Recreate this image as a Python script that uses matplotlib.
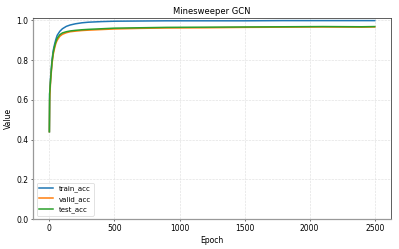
import matplotlib
matplotlib.use("Agg")
import matplotlib.pyplot as plt

# (epoch, accuracy)
epochs = [0, 2, 5, 10, 20, 30, 40, 50, 60, 80, 100, 130, 160, 200, 250, 300, 400, 500, 700,
          900, 1200, 1500, 1800, 2100, 2400, 2500]
train_acc = [0.44, 0.63, 0.66, 0.72, 0.80, 0.85, 0.88, 0.905, 0.925, 0.945, 0.958, 0.970, 0.977,
             0.983, 0.988, 0.991, 0.994, 0.996, 0.997, 0.998, 0.998, 0.998, 0.999, 0.999, 0.999, 0.999]
valid_acc = [0.44, 0.60, 0.64, 0.70, 0.78, 0.83, 0.86, 0.885, 0.90, 0.92, 0.930, 0.938, 0.943,
             0.946, 0.949, 0.951, 0.954, 0.957, 0.960, 0.962, 0.963, 0.965, 0.966, 0.967, 0.966, 0.967]
test_acc = [0.44, 0.63, 0.66, 0.71, 0.79, 0.84, 0.87, 0.893, 0.91, 0.928, 0.937, 0.943, 0.947,
            0.950, 0.953, 0.955, 0.958, 0.961, 0.963, 0.965, 0.966, 0.967, 0.968, 0.969, 0.968, 0.969]

fig, ax = plt.subplots(figsize=(7.98, 4.98), dpi=50)
fig.subplots_adjust(left=0.083, right=0.98, top=0.926, bottom=0.12)

ax.plot(epochs, train_acc, color="#1f77b4", lw=2.2, label="train_acc")
ax.plot(epochs, valid_acc, color="#ff7f0e", lw=2.2, label="valid_acc")
ax.plot(epochs, test_acc, color="#2ca02c", lw=2.2, label="test_acc")

ax.set_ylim(0, 1.01)
ax.set_xticks([0, 500, 1000, 1500, 2000, 2500])
ax.set_yticks([0.0, 0.2, 0.4, 0.6, 0.8, 1.0])
ax.grid(True, linestyle="--", color="#e0e0e0", linewidth=0.9)
ax.set_title("Minesweeper GCN", fontsize=12)
ax.set_xlabel("Epoch", fontsize=11)
ax.set_ylabel("Value", fontsize=11)
ax.tick_params(labelsize=11)

for side in ["left", "bottom"]:
    ax.spines[side].set_color("#999999")
    ax.spines[side].set_linewidth(1.8)
for side in ["top", "right"]:
    ax.spines[side].set_color("#444444")
    ax.spines[side].set_linewidth(1.2)

ax.legend(loc="lower left", fontsize=10)

fig.savefig("out.png", dpi=50)
